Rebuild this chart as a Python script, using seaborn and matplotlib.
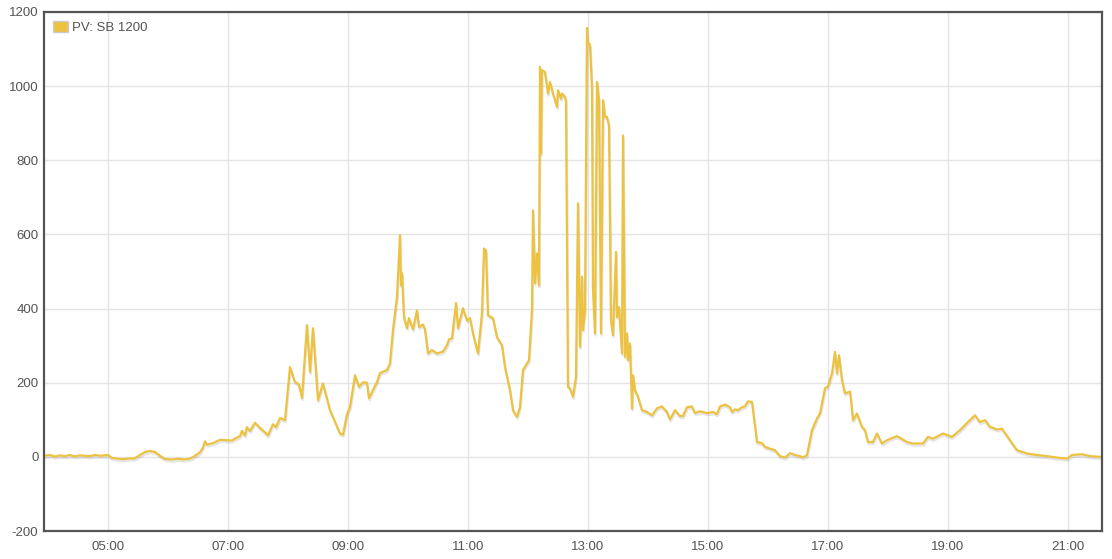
import pandas as pd
import numpy as np
import matplotlib
matplotlib.use('Agg')
import matplotlib.pyplot as plt
import matplotlib.dates as mdates
import matplotlib.patheffects as pe
from matplotlib.patches import Patch
import seaborn as sns

# readings of the PV inverter (W)
times = ['03:56','04:02','04:07','04:12','04:17','04:22','04:27','04:32','04:37','04:42',
         '04:47','04:52','04:57','05:00','05:04','05:10','05:16','05:22','05:26','05:32',
         '05:37','05:42','05:47','05:52','05:57','06:04','06:10','06:16','06:22','06:27',
         '06:32','06:35','06:37','06:39','06:45','06:52','06:59','07:04','07:09','07:12',
         '07:14','07:17','07:19','07:22','07:27','07:32','07:37','07:40','07:45','07:48',
         '07:52','07:57','08:02','08:07','08:11','08:14','08:19','08:22','08:25','08:30',
         '08:35','08:42','08:47','08:52','08:55','08:59','09:02','09:07','09:11','09:15',
         '09:19','09:21','09:25','09:29','09:32','09:39','09:42','09:45','09:49','09:52',
         '09:53','09:54','09:56','09:59','10:01','10:05','10:09','10:11','10:15','10:17',
         '10:20','10:24','10:29','10:35','10:39','10:41','10:44','10:48','10:50','10:55',
         '10:59','11:02','11:05','11:10','11:14','11:16','11:18','11:20','11:25','11:29',
         '11:34','11:37','11:42','11:45','11:49','11:52','11:55','12:01','12:04','12:05',
         '12:07','12:09','12:11','12:12','12:13','12:14','12:17','12:20','12:22','12:25',
         '12:29','12:30','12:33','12:34','12:37','12:38','12:40','12:42','12:45','12:48',
         '12:50','12:52','12:54','12:55','12:57','12:59','13:00','13:02','13:04','13:05',
         '13:07','13:09','13:11','13:13','13:15','13:17','13:19','13:21','13:23','13:25',
         '13:28','13:29','13:31','13:34','13:35','13:37','13:39','13:40','13:42','13:44',
         '13:45','13:47','13:50','13:54','13:59','14:04','14:09','14:14','14:19','14:22',
         '14:27','14:32','14:35','14:39','14:44','14:47','14:52','14:59','15:05','15:09',
         '15:12','15:17','15:22','15:24','15:27','15:30','15:34','15:37','15:40','15:44',
         '15:45','15:49','15:54','15:57','16:02','16:07','16:12','16:17','16:22','16:27',
         '16:32','16:35','16:39','16:44','16:49','16:52','16:57','17:00','17:04','17:07',
         '17:09','17:11','17:14','17:17','17:22','17:23','17:25','17:29','17:34','17:37',
         '17:40','17:45','17:49','17:54','17:59','18:09','18:19','18:25','18:35','18:40',
         '18:45','18:55','19:04','19:12','19:20','19:27','19:32','19:37','19:42','19:49',
         '19:54','20:02','20:09','20:19','20:29','20:39','20:49','20:59','21:04','21:14',
         '21:22','21:32']
power = [3,5,1,4,2,5,1,4,3,2,
         5,3,4,5,-3,-5,-6,-4,-5,5,
         13,16,13,3,-6,-7,-5,-7,-5,3,
         12,25,42,33,37,46,45,44,52,56,
         70,58,80,70,92,78,66,58,88,80,
         105,99,242,202,195,159,355,229,347,153,
         198,126,95,63,60,115,134,220,189,201,
         200,158,180,202,226,234,252,342,431,598,
         463,495,377,347,374,344,395,350,357,344,
         279,288,279,284,301,317,320,415,347,401,
         368,374,333,279,387,562,557,382,374,323,
         301,242,180,126,108,134,234,261,396,665,
         468,549,463,1052,818,1043,1038,980,1011,980,
         944,989,966,980,971,960,189,185,162,216,
         684,297,486,342,396,1157,1116,1112,994,450,
         333,1011,962,333,962,917,917,894,368,328,
         553,377,404,279,867,270,333,261,306,131,
         220,180,162,126,121,112,131,136,121,101,
         126,110,110,134,136,118,123,118,121,115,
         136,141,134,121,128,126,134,136,150,148,
         126,40,37,27,22,18,2,-2,10,5,
         2,-2,5,72,104,117,185,190,225,283,
         225,274,207,171,176,153,99,117,81,72,
         40,40,63,36,45,56,40,36,36,54,
         49,63,54,72,94,112,94,99,81,74,
         76,45,18,9,5,2,-2,-5,5,7,
         2,0]
series_name = 'PV: SB 1200'
y_ticks = [-200, 0, 200, 400, 600, 800, 1000, 1200]
x_ticks = ['05:00','07:00','09:00','11:00','13:00','15:00','17:00','19:00','21:00']

day = '2024-06-01 '
df = pd.DataFrame({'time': pd.to_datetime([day + t for t in times]), 'power': power})

sns.set_style('white')
plt.rcParams['font.family'] = ['Liberation Sans', 'DejaVu Sans']
plt.rcParams['axes.unicode_minus'] = False

fig = plt.figure(figsize=(11.12, 5.59), dpi=100)
ax = fig.add_axes([44/1112, 1 - 531/559, (1102-44)/1112, (531-12)/559])

color = '#edc240'
sns.lineplot(data=df, x='time', y='power', ax=ax, color=color, lw=1.6, sort=False,
             path_effects=[pe.SimpleLineShadow(offset=(0.5, -1.5), shadow_color='k', alpha=0.1),
                           pe.Normal()])

ax.set_xlim(pd.Timestamp(day + '03:56'), pd.Timestamp(day + '21:34'))
ax.set_ylim(-200, 1200)
ax.set_yticks(y_ticks)
ax.set_xticks(pd.to_datetime([day + t for t in x_ticks]))
ax.xaxis.set_major_formatter(mdates.DateFormatter('%H:%M'))
ax.grid(True, color='#e4e4e4', lw=1)
ax.set_axisbelow(True)
ax.tick_params(length=0, labelsize=9.5, labelcolor='#545454', pad=4)
ax.tick_params(axis='x', pad=7)
ax.set_xlabel('')
ax.set_ylabel('')
for s in ax.spines.values():
    s.set_color('#545454')
    s.set_linewidth(1.6)

handle = Patch(facecolor=color, edgecolor='#cccccc', linewidth=1)
leg = ax.legend([handle], [series_name], loc='upper left', frameon=False,
                handlelength=1.1, handleheight=0.9, handletextpad=0.3,
                borderaxespad=0.3, fontsize=9.5)
for t in leg.get_texts():
    t.set_color('#545454')

fig.savefig('out.png', dpi=100)
